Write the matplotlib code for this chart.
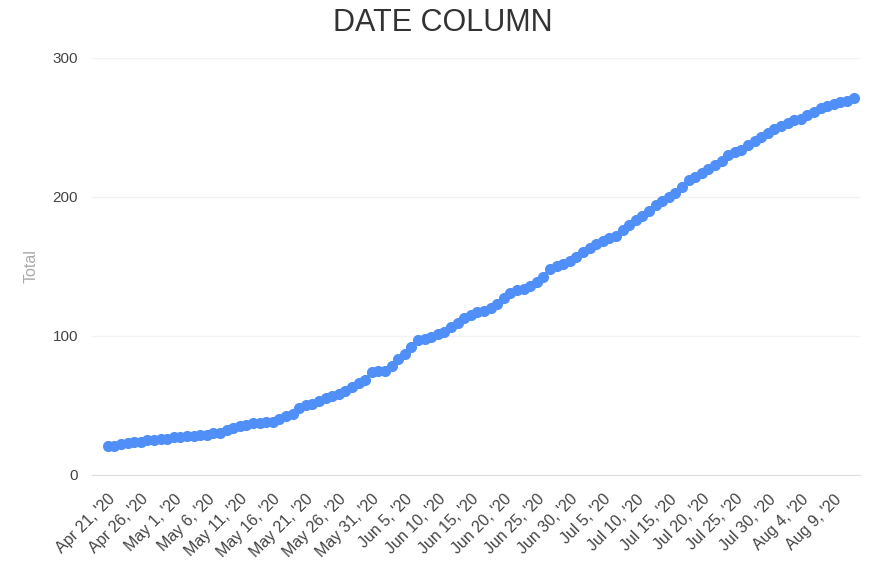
import matplotlib
matplotlib.use("Agg")
import matplotlib.pyplot as plt
import numpy as np
import pandas as pd

start_date = "2020-04-21"
totals = [21, 21, 22, 23, 24, 24, 25, 25, 26, 26,
          27, 27, 28, 28, 29, 29, 30, 30, 32, 34,
          35, 36, 37, 37, 38, 38, 40, 42, 44, 48,
          50, 51, 53, 55, 57, 58, 60, 63, 66, 68,
          74, 75, 75, 78, 83, 87, 92, 97, 98, 99,
          101, 103, 106, 109, 113, 115, 117, 118, 120, 123,
          127, 131, 133, 134, 136, 139, 142, 148, 150, 152,
          154, 157, 160, 163, 166, 168, 170, 172, 176, 180,
          183, 186, 190, 194, 197, 200, 203, 207, 212, 214,
          217, 220, 223, 226, 230, 232, 234, 237, 240, 243,
          246, 249, 251, 253, 255, 256, 259, 261, 264, 265,
          267, 268, 269, 271]
dates = pd.date_range(start_date, periods=len(totals), freq="D")
tick_dates = pd.date_range(start_date, "2020-08-09", freq="5D")
y_ticks = [0, 100, 200, 300]

plt.rcParams['font.family'] = ['Liberation Sans', 'DejaVu Sans']
fig = plt.figure(figsize=(8.75, 5.66), dpi=100)
ax = fig.add_axes([0.105, 0.161, 0.878, 0.737])

color = "#4f8ff7"
ax.plot(dates, totals, color=color, lw=2.5, marker="o", ms=7, mec=color, mfc=color, zorder=3)

ax.set_xlim(dates[0] - pd.Timedelta(days=2.4), dates[0] + pd.Timedelta(days=114))
ax.set_ylim(0, 300)
ax.set_yticks(y_ticks)
ax.set_xticks(tick_dates)
ax.set_xticklabels([d.strftime("%b %-d, '%y") for d in tick_dates], rotation=45,
                   ha="right", rotation_mode="anchor", fontsize=11.5, color="#444444")
ax.tick_params(axis="y", labelsize=11, labelcolor="#444444", length=0, pad=10)
ax.tick_params(axis="x", length=0, pad=12)
ax.grid(axis="y", color="#f2f2f2", lw=1)
ax.set_axisbelow(True)
for s in ["top", "right", "left"]:
    ax.spines[s].set_visible(False)
ax.spines["bottom"].set_color("#dddddd")
ax.set_ylabel("Total", color="#aaaaaa", fontsize=11.5, labelpad=10)
fig.text(0.506, 0.96, "DATE COLUMN", ha="center", va="center", fontsize=22, color="#333333")

fig.savefig("out.png", dpi=100)
